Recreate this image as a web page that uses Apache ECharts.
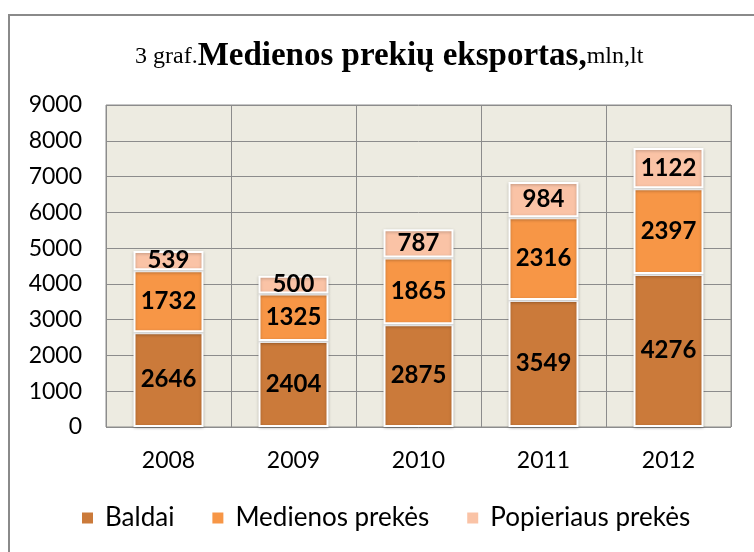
<!DOCTYPE html>
<html>
<head>
<meta charset="utf-8">
<script src="https://cdn.jsdelivr.net/npm/echarts@6/dist/echarts.min.js"></script>
<style>
  html, body { margin: 0; padding: 0; background: #fff; }
  #chart { width: 754px; height: 552px; }
</style>
</head>
<body>
<div id="chart"></div>
<script>
// metai
var years = ['2008', '2009', '2010', '2011', '2012'];
// eksportas, mln. lt
var baldai = [2646, 2404, 2875, 3549, 4276];
var medienos = [1732, 1325, 1865, 2316, 2397];
var popieriaus = [539, 500, 787, 984, 1122];
var seriesNames = ['Baldai', 'Medienos prekės', 'Popieriaus prekės'];
var seriesColors = ['#CB7A3A', '#F79646', '#FAC3A6'];

var txtFont = 'Lato, "Open Sans", sans-serif';

function makeSeries(name, data, color) {
  return {
    name: name,
    type: 'bar',
    stack: 'total',
    barWidth: 70,
    data: data,
    itemStyle: {
      color: color,
      borderColor: '#ffffff',
      borderWidth: 2,
      shadowColor: 'rgba(0,0,0,0.25)',
      shadowBlur: 3,
      shadowOffsetY: 1
    },
    label: {
      show: true,
      position: 'inside',
      color: '#000',
      fontFamily: txtFont,
      fontWeight: 'bold',
      fontSize: 24
    }
  };
}

var myChart = echarts.init(document.getElementById('chart'));
var option = {
  animation: false,
  backgroundColor: '#ffffff',
  graphic: [{
    type: 'rect',
    shape: { x: 9, y: 15, width: 800, height: 600 },
    style: { fill: 'none', stroke: '#8a8a8a', lineWidth: 2 },
    silent: true
  }],
  title: {
    text: '{n|3 graf.}{b|Medienos prekių eksportas,}{n|mln,lt}',
    left: 130,
    top: 35,
    textStyle: {
      rich: {
        n: { fontFamily: '"Liberation Serif", serif', fontSize: 24, fontWeight: 'normal', color: '#000' },
        b: { fontFamily: '"Liberation Serif", serif', fontSize: 33, fontWeight: 'bold', color: '#000' }
      }
    }
  },
  legend: {
    bottom: 16,
    left: 75,
    itemWidth: 13,
    itemHeight: 13,
    itemGap: 36,
    icon: 'rect',
    data: seriesNames,
    textStyle: { fontFamily: txtFont, fontSize: 26, color: '#000', padding: [0, 0, 0, 6] }
  },
  grid: {
    left: 106,
    right: 23,
    top: 105,
    bottom: 125,
    show: true,
    backgroundColor: '#EDEBE1',
    borderColor: '#8c8c8c',
    borderWidth: 1
  },
  xAxis: {
    type: 'category',
    data: years,
    axisLine: { show: false },
    axisTick: { show: false },
    axisLabel: { fontFamily: txtFont, fontSize: 23, color: '#000', margin: 22 },
    splitLine: { show: true, lineStyle: { color: '#8c8c8c', width: 1 } }
  },
  yAxis: {
    type: 'value',
    min: 0,
    max: 9000,
    interval: 1000,
    axisLine: { show: false },
    axisTick: { show: false },
    axisLabel: {
      fontFamily: txtFont, fontSize: 23, color: '#000', margin: 24,
      formatter: function (v) { return String(v); }
    },
    splitLine: { show: true, lineStyle: { color: '#8c8c8c', width: 1 } }
  },
  series: [
    makeSeries(seriesNames[0], baldai, seriesColors[0]),
    makeSeries(seriesNames[1], medienos, seriesColors[1]),
    makeSeries(seriesNames[2], popieriaus, seriesColors[2])
  ]
};
myChart.setOption(option);
</script>
</body>
</html>
